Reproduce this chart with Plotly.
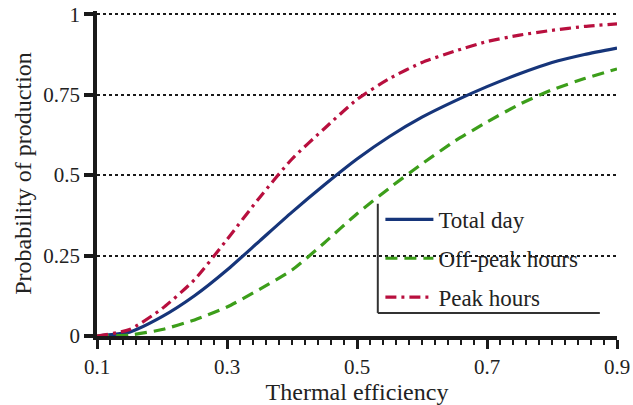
import plotly.graph_objects as go

# Thermal efficiency grid
efficiency = [0.10, 0.15, 0.20, 0.25, 0.30, 0.35, 0.40, 0.45, 0.50,
              0.55, 0.60, 0.65, 0.70, 0.75, 0.80, 0.85, 0.90]

# Probability of production per period
total_day = [0.0, 0.012, 0.06, 0.125, 0.205, 0.295, 0.385, 0.47, 0.55,
             0.62, 0.68, 0.73, 0.775, 0.815, 0.85, 0.875, 0.895]
off_peak = [0.0, 0.003, 0.02, 0.05, 0.09, 0.145, 0.205, 0.29, 0.38,
            0.46, 0.535, 0.605, 0.665, 0.72, 0.765, 0.80, 0.83]
peak = [0.0, 0.02, 0.085, 0.175, 0.30, 0.43, 0.55, 0.645, 0.735,
        0.80, 0.85, 0.885, 0.915, 0.935, 0.95, 0.962, 0.97]

x_ticks = [0.1, 0.3, 0.5, 0.7, 0.9]
y_ticks = [0, 0.25, 0.5, 0.75, 1]
y_tick_text = ["0", "0.25", "0.5", "0.75", "1"]

FONT = "Liberation Serif, DejaVu Serif, serif"

fig = go.Figure()
series = [
    ("Total day", total_day, "#16357a", "solid"),
    ("Off-peak hours", off_peak, "#3c9e1a", "12px,7px"),
    ("Peak hours", peak, "#b80f3e", "11px,5px,3px,5px"),
]
for i, (name, vals, color, dash) in enumerate(series):
    fig.add_trace(go.Scatter(
        x=efficiency, y=vals, name=name, mode="lines",
        line=dict(color=color, width=3.2, dash=dash, shape="spline", smoothing=0.6),
        legendgroup=f"g{i}",
    ))

fig.update_layout(
    width=633, height=405,
    margin=dict(l=97, r=16, t=11, b=69),
    paper_bgcolor="white", plot_bgcolor="white",
    font=dict(family=FONT, size=21, color="#222"),
    showlegend=True,
    legend=dict(
        x=0.545, y=0.425, xanchor="left", yanchor="top",
        bgcolor="rgba(0,0,0,0)", borderwidth=0,
        font=dict(family=FONT, size=23, color="#222"),
        traceorder="grouped", tracegroupgap=6,
        itemwidth=48,
    ),
    xaxis=dict(
        range=[0.1, 0.9], tickvals=x_ticks, ticktext=[str(v) for v in x_ticks],
        automargin=False,
        showgrid=False, zeroline=False,
        showline=True, linecolor="#1a1a1a", linewidth=3.5,
        ticks="outside", ticklen=9, tickwidth=3, tickcolor="#1a1a1a",
        minor=dict(dtick=0.02, tick0=0.1, ticks="outside", ticklen=5,
                   tickwidth=2, tickcolor="#1a1a1a", showgrid=False),
        title=dict(text="Thermal efficiency", font=dict(size=24), standoff=2),
        tickfont=dict(size=21),
    ),
    yaxis=dict(
        range=[0, 1.01], tickvals=y_ticks, ticktext=y_tick_text,
        automargin=False,
        showgrid=True, gridcolor="#1a1a1a", gridwidth=2.2, griddash="dot",
        zeroline=False,
        showline=True, linecolor="#1a1a1a", linewidth=3.5,
        ticks="outside", ticklen=9, tickwidth=4, tickcolor="#1a1a1a",
        title=dict(text="Probability of production", font=dict(size=24), standoff=6),
        tickfont=dict(size=21),
    ),
)

# L-shaped frame at the left and bottom of the legend
fig.add_shape(type="line", xref="paper", yref="paper",
              x0=0.540, x1=0.540, y0=0.407, y1=0.071,
              line=dict(color="#333", width=2))
fig.add_shape(type="line", xref="paper", yref="paper",
              x0=0.540, x1=0.967, y0=0.071, y1=0.071,
              line=dict(color="#333", width=2))

fig.write_html("out.html")
